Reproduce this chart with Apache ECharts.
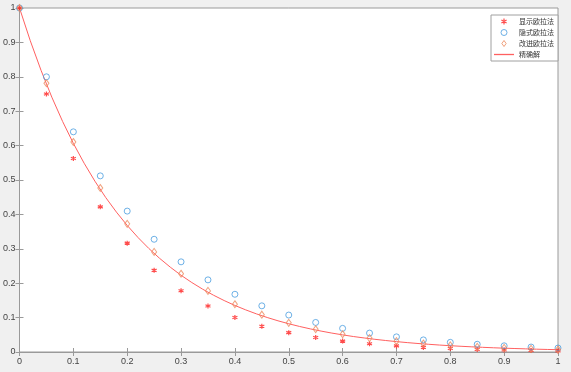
<!DOCTYPE html>
<html>
<head>
<meta charset="utf-8">
<script src="https://cdn.jsdelivr.net/npm/echarts@6/dist/echarts.min.js"></script>
<style>
html,body{margin:0;padding:0;background:#f0f0f0;}
#c{width:571px;height:372px;}
</style>
</head>
<body>
<div id="c"></div>
<script>
var xs = [0,0.05,0.1,0.15,0.2,0.25,0.3,0.35,0.4,0.45,0.5,0.55,0.6,0.65,0.7,0.75,0.8,0.85,0.9,0.95,1];
var explicitEuler = [1,0.75,0.5625,0.4219,0.3164,0.2373,0.178,0.1335,0.1001,0.0751,0.0563,0.0422,0.0317,0.0238,0.0178,0.0134,0.01,0.0075,0.0056,0.0042,0.0032];
var implicitEuler = [1,0.8,0.64,0.512,0.4096,0.3277,0.2621,0.2097,0.1678,0.1342,0.1074,0.0859,0.0687,0.055,0.044,0.0352,0.0281,0.0225,0.018,0.0144,0.0115];
var improvedEuler = [1,0.7813,0.6104,0.4768,0.3725,0.291,0.2274,0.1776,0.1388,0.1084,0.0847,0.0662,0.0517,0.0404,0.0316,0.0247,0.0193,0.0151,0.0118,0.0092,0.0072];
var exactX = [0,0.02,0.04,0.06,0.08,0.1,0.12,0.14,0.16,0.18,0.2,0.22,0.24,0.26,0.28,0.3,0.32,0.34,0.36,0.38,0.4,0.42,0.44,0.46,0.48,0.5,0.52,0.54,0.56,0.58,0.6,0.62,0.64,0.66,0.68,0.7,0.72,0.74,0.76,0.78,0.8,0.82,0.84,0.86,0.88,0.9,0.92,0.94,0.96,0.98,1];
var exactY = [1,0.9048,0.8187,0.7408,0.6703,0.6065,0.5488,0.4966,0.4493,0.4066,0.3679,0.3329,0.3012,0.2725,0.2466,0.2231,0.2019,0.1827,0.1653,0.1496,0.1353,0.1225,0.1108,0.1003,0.0907,0.0821,0.0743,0.0672,0.0608,0.055,0.0498,0.045,0.0408,0.0369,0.0334,0.0302,0.0273,0.0247,0.0224,0.0202,0.0183,0.0166,0.015,0.0136,0.0123,0.0111,0.0101,0.0091,0.0082,0.0074,0.0067];
var seriesNames = ['显示欧拉法','隐式欧拉法','改进欧拉法','精确解'];

function pairs(a, b){ return a.map(function(v,i){ return [v, b[i]]; }); }

var axisColor = '#9a9a9a';
var labelColor = '#444';
var star = 'path://M0,-10L0,10M-8.66,-5L8.66,5M-8.66,5L8.66,-5';
var diamond = 'path://M0,-7L5,0L0,7L-5,0Z';
var cRed = '#ff2020', cBlue = '#4a9de0', cOrange = '#ec8a5c', cLine = '#ff6060';

var chart = echarts.init(document.getElementById('c'), null, {renderer:'canvas'});
chart.setOption({
  backgroundColor: '#f0f0f0',
  animation: false,
  grid: {left:17, right:13, top:8, bottom:20, containLabel:false, show:true, backgroundColor:'#ffffff', borderColor:axisColor, borderWidth:1},
  xAxis: [{
    type:'value', min:0, max:1, interval:0.1, position:'bottom',
    axisLine:{show:true, lineStyle:{color:axisColor}},
    axisTick:{show:true, inside:true, length:4, lineStyle:{color:axisColor}},
    axisLabel:{color:labelColor, fontSize:9, margin:5, fontFamily:'Liberation Sans'},
    splitLine:{show:false}
  },{
    type:'value', min:0, max:1, interval:0.1, position:'top',
    axisLine:{show:true, lineStyle:{color:axisColor}},
    axisTick:{show:true, inside:true, length:4, lineStyle:{color:axisColor}},
    axisLabel:{show:false}, splitLine:{show:false}
  }],
  yAxis: [{
    type:'value', min:0, max:1, interval:0.1, position:'left',
    axisLine:{show:true, lineStyle:{color:axisColor}},
    axisTick:{show:true, inside:true, length:4, lineStyle:{color:axisColor}},
    axisLabel:{color:labelColor, fontSize:9, margin:4, fontFamily:'Liberation Sans'},
    splitLine:{show:false}
  },{
    type:'value', min:0, max:1, interval:0.1, position:'right',
    axisLine:{show:true, lineStyle:{color:axisColor}},
    axisTick:{show:true, inside:true, length:4, lineStyle:{color:axisColor}},
    axisLabel:{show:false}, splitLine:{show:false}
  }],
  legend: {
    orient:'vertical', left:491, top:15,
    backgroundColor:'#ffffff', borderColor:'#a0a0a0', borderWidth:1,
    padding:[2,4,2,3], itemGap:2, itemWidth:20, itemHeight:6,
    symbolKeepAspect:true,
    textStyle:{fontSize:7, lineHeight:9, color:'#333', fontFamily:'Noto Sans CJK SC'},
    data: [
      {name: seriesNames[0], icon: star, itemStyle:{color:'rgba(0,0,0,0)', borderColor:cRed, borderWidth:1.2}},
      {name: seriesNames[1], icon: 'circle', itemStyle:{color:'rgba(0,0,0,0)', borderColor:cBlue, borderWidth:1}},
      {name: seriesNames[2], icon: diamond, itemStyle:{color:'rgba(0,0,0,0)', borderColor:cOrange, borderWidth:1}},
      {name: seriesNames[3], icon: 'path://M0,0H20V1.3H0Z', itemStyle:{color:cLine, borderWidth:0}}
    ]
  },
  series: [{
    name: seriesNames[0], type:'scatter', data: pairs(xs, explicitEuler),
    symbol: star, symbolSize:5,
    itemStyle:{color:'rgba(0,0,0,0)', borderColor:cRed, borderWidth:1.2},
    z:3
  },{
    name: seriesNames[1], type:'scatter', data: pairs(xs, implicitEuler),
    symbol:'circle', symbolSize:6,
    itemStyle:{color:'rgba(0,0,0,0)', borderColor:cBlue, borderWidth:1},
    z:3
  },{
    name: seriesNames[2], type:'scatter', data: pairs(xs, improvedEuler),
    symbol: diamond, symbolSize:[5,7],
    itemStyle:{color:'rgba(0,0,0,0)', borderColor:cOrange, borderWidth:1},
    z:3
  },{
    name: seriesNames[3], type:'line', data: pairs(exactX, exactY),
    showSymbol:false, symbol:'none', smooth:false,
    lineStyle:{color:cLine, width:1},
    itemStyle:{color:cLine, borderColor:cLine},
    z:2
  }]
});
</script>
</body>
</html>
